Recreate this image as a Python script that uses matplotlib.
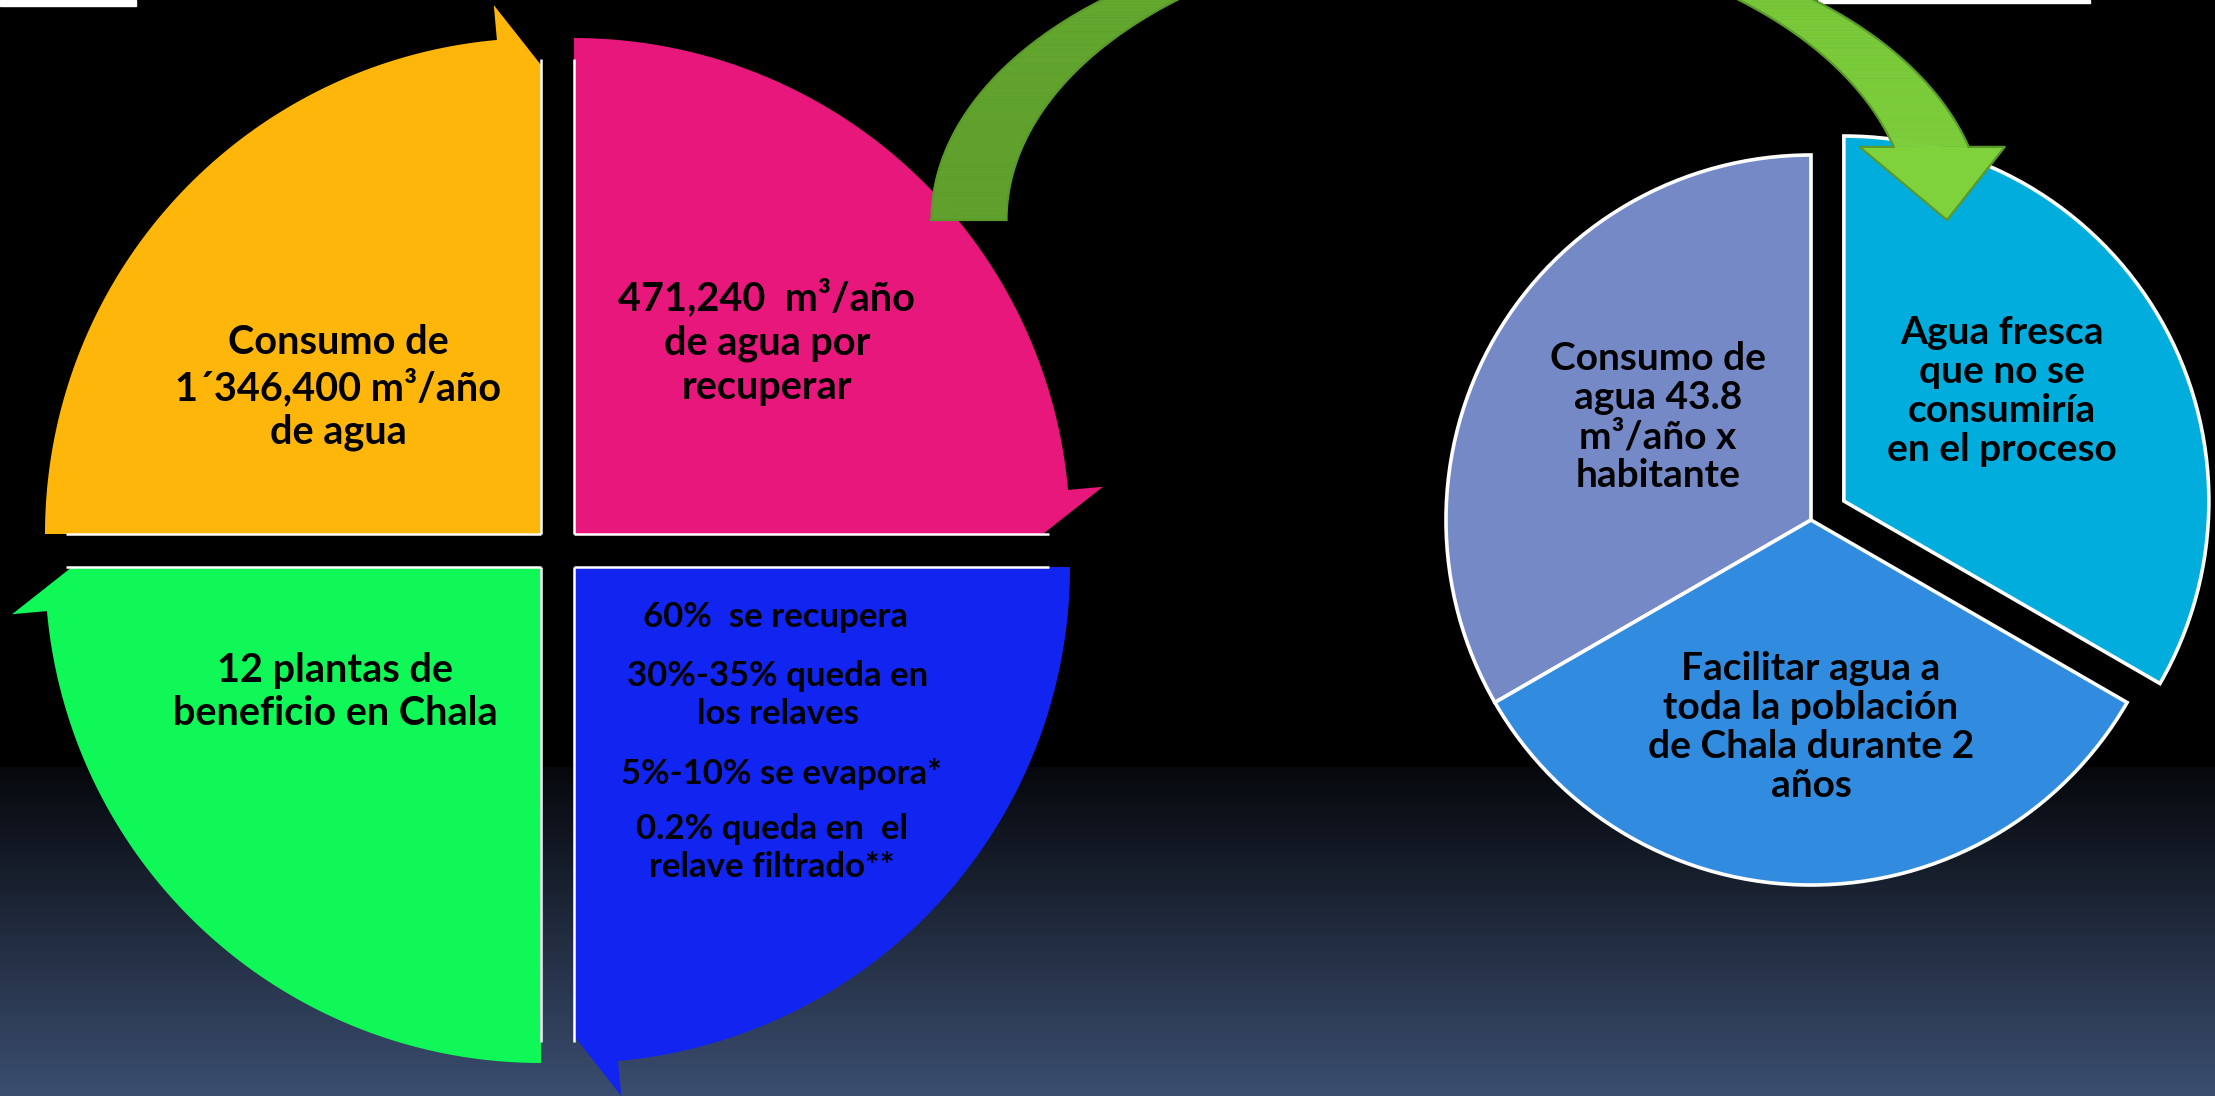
import numpy as np
import matplotlib
matplotlib.use("Agg")
import matplotlib.pyplot as plt
from matplotlib.patches import Polygon, Rectangle
from matplotlib.collections import PolyCollection

plt.rcParams['font.family'] = ['Lato', 'DejaVu Sans']

# ---------------- data ----------------
cycle_labels = [
    "Consumo de\n1´346,400 m³/año\nde agua",
    "471,240  m³/año\nde agua por\nrecuperar",
    "",
    "12 plantas de\nbeneficio en Chala",
]
cycle_shares = [1, 1, 1, 1]
cycle_colors = ["#FFB60B", "#E8177B", "#1225F0", "#10F758"]
blue_paragraphs = [
    "60%  se recupera",
    "30%-35% queda en\nlos relaves",
    "5%-10% se evapora*",
    "0.2% queda en  el\nrelave filtrado**",
]

pie_labels = [
    "Consumo de\nagua 43.8\nm³/año x\nhabitante",
    "Facilitar agua a\ntoda la población\nde Chala durante 2\naños",
    "Agua fresca\nque no se\nconsumiría\nen el proceso",
]
pie_shares = [1, 1, 1]
pie_colors = ["#7489C6", "#318BDE", "#00ADDC"]
pie_explode = [0, 0, 0.104]   # fraction of the radius

# ---------------- figure ----------------
W, H = 2215, 1096
fig = plt.figure(figsize=(W / 100, H / 100), dpi=100)
ax = fig.add_axes([0, 0, 1, 1])

# background gradient
rows = np.arange(H)
top_c = np.array([6, 8, 12]) / 255
bot_c = np.array([59, 78, 112]) / 255
f = np.clip((rows - 768) / (H - 1 - 768), 0, 1)
grad = top_c[None, :] + f[:, None] * (bot_c - top_c)[None, :]
grad[rows < 767] = 0
ax.imshow(grad[:, None, :], extent=[0, W, 0, H], aspect='auto', zorder=0,
          interpolation='bilinear')

# small white artefacts at the top edge
ax.add_patch(Rectangle((0, H - 6), 136, 6, color='white', zorder=1))
ax.add_patch(Rectangle((1818, H - 3), 272, 3, color='white', zorder=1))

# ---------------- left segmented cycle ----------------
C0 = np.array([557.5, 545.5])
R = 496
gap = 16.5
wing = 35
tip_in = 27
delta = 5.1
total = sum(cycle_shares)
start = 180.0
for share, color in zip(cycle_shares, cycle_colors):
    span = 360.0 * share / total
    a0, a1 = start, start - span
    mid = np.radians((a0 + a1) / 2)
    corner = C0 + gap * np.sqrt(2) * np.array([np.cos(mid), np.sin(mid)])
    t = np.radians(np.linspace(a0, a1 + delta, 200))
    arc = corner + R * np.column_stack([np.cos(t), np.sin(t)])
    ae = np.radians(a1 + delta)
    wpt = corner + (R + wing) * np.array([np.cos(ae), np.sin(ae)])
    tpt = corner + (R - tip_in) * np.array([np.cos(np.radians(a1)), np.sin(np.radians(a1))])
    pts = np.vstack([corner, arc, wpt, tpt])
    ax.add_patch(Polygon(pts, closed=True, facecolor=color, edgecolor='none', zorder=2))
    for a in (a0, a1):
        d = np.array([np.cos(np.radians(a)), np.sin(np.radians(a))])
        p2 = corner + 475 * d
        ax.plot([corner[0], p2[0]], [corner[1], p2[1]], color='white', lw=1.8,
                zorder=3, solid_capstyle='butt')
    start = a1

txt_kw = dict(ha='center', va='center', fontweight='bold', color='black', zorder=6)
ax.text(338, H - 387.5, cycle_labels[0], fontsize=28.5, linespacing=1.23, **txt_kw)
ax.text(767, H - 342, cycle_labels[1], fontsize=28.5, linespacing=1.23, **txt_kw)
ax.text(335, H - 692, cycle_labels[3], fontsize=28.5, linespacing=1.23, **txt_kw)
blue_pos = [(776, H - 617), (778, H - 695), (781, H - 774), (772, H - 848)]
for (x, y), s in zip(blue_pos, blue_paragraphs):
    ax.text(x, y, s, fontsize=25, linespacing=1.2, **txt_kw)

# ---------------- right pie ----------------
pc = (1811, 576)
pr = 365
wedges, _ = ax.pie(pie_shares, colors=pie_colors,
                   explode=[e * pr for e in pie_explode],
                   startangle=90, counterclock=True, center=pc, radius=pr,
                   wedgeprops=dict(edgecolor='white', linewidth=2.6))
for w in wedges:
    w.set_zorder(2)
pie_pos = [(1658, H - 417), (1811, H - 727), (2002, H - 391)]
for (x, y), s in zip(pie_pos, pie_labels):
    ax.text(x, y, s, fontsize=28, linespacing=1.14, **txt_kw)

# ---------------- green curved arrow ----------------
acx, acy, aa, ab, ad = 1458.0, H - 220.0, 489.0, 290.0, 75.0
t_base = 14.6
left_col = np.array([95, 160, 44]) / 255
right_col = np.array([127, 210, 60]) / 255
ts = np.radians(np.linspace(180, t_base, 400))
E1 = np.column_stack([acx - ad / 2 + aa * np.cos(ts), acy + ab * np.sin(ts)])
E2 = np.column_stack([acx + ad / 2 + aa * np.cos(ts), acy + ab * np.sin(ts)])
quads, cols = [], []
for i in range(len(ts) - 1):
    q = [E1[i], E1[i + 1], E2[i + 1], E2[i]]
    quads.append(q)
    xm = np.mean([p[0] for p in q])
    fr = np.clip((xm - 932) / (2005 - 932), 0, 1)
    cols.append(left_col + fr * (right_col - left_col))
ax.add_collection(PolyCollection(quads, facecolors=cols, edgecolors=cols,
                                 linewidths=0.6, zorder=4))
yb = acy + ab * np.sin(np.radians(t_base))
bl = np.array([E1[-1][0] - 34, yb])
br = np.array([E2[-1][0] + 36, yb])
tip = np.array([acx + aa, acy])
ax.add_patch(Polygon([E1[-1], bl, tip, br, E2[-1]], closed=True,
                     facecolor=right_col, edgecolor='none', zorder=4))
oc = '#5A9A2A'
ax.plot(E1[:, 0], E1[:, 1], color=oc, lw=1.6, zorder=5)
ax.plot(E2[:, 0], E2[:, 1], color=oc, lw=1.6, zorder=5)
ax.plot([E1[0][0], E2[0][0]], [E1[0][1], E2[0][1]], color=oc, lw=1.6, zorder=5)
ax.plot([E1[-1][0], bl[0], tip[0], br[0], E2[-1][0]],
        [E1[-1][1], bl[1], tip[1], br[1], E2[-1][1]], color=oc, lw=1.6, zorder=5)

ax.set_xlim(0, W)
ax.set_ylim(0, H)
ax.set_aspect('auto')
ax.axis('off')
fig.savefig('out.png', dpi=100, facecolor='black')
